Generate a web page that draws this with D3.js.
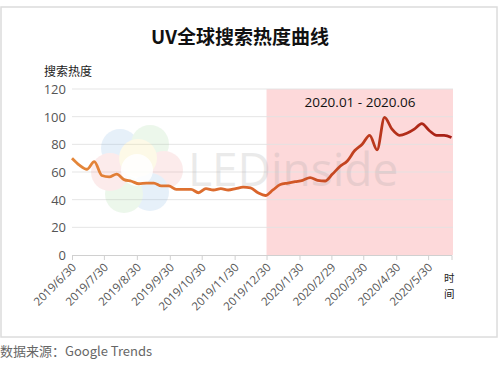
<!DOCTYPE html>
<html><head><meta charset="utf-8">
<script src="https://cdn.jsdelivr.net/npm/d3@7"></script>
<style>
html,body{margin:0;padding:0;background:#fff;}
svg{display:block;font-family:"Open Sans","Noto Sans CJK SC",sans-serif;}
</style></head>
<body>
<script>
// ---- data ----
const startDate = "2019-06-30";
const values = [70,65,62,67.5,57.5,56.5,58.5,54.5,53.3,51.5,52,52,50,50,47.5,47.5,47.5,45,48,47,48,47,48,49,48.5,45,
  43,47,51,52,53,54,56,54,53.5,58.5,64,68,75.5,80,86.5,76,99.5,91,86.5,88,91,95,90,86.5,86.5,85];
const tickLabels = ["2019/6/30","2019/7/30","2019/8/30","2019/9/30","2019/10/30","2019/11/30","2019/12/30",
  "2020/1/30","2020/2/29","2020/3/30","2020/4/30","2020/5/30"];
const yTicks = [0,20,40,60,80,100,120];
const highlightStart = "2019/12/30";
const highlightLabel = "2020.01 - 2020.06";
const title = "UV全球搜索热度曲线";
const yTitle = "搜索热度";
const xTitle = "时间";
const source = "数据来源：Google Trends";

(function(){
const W = 500, H = 369;
const parse = d3.timeParse("%Y/%m/%d");
const d0 = d3.timeParse("%Y-%m-%d")(startDate);
const data = values.map((v,i)=>({date:d3.timeDay.offset(d0, i*7), v}));
const tickDates = tickLabels.map(parse);

const svg = d3.select("body").append("svg").attr("width",W).attr("height",H);
// frame
svg.append("rect").attr("x",1).attr("y",7).attr("width",496).attr("height",330)
  .attr("fill","#fff").attr("stroke","#dcdcdc").attr("stroke-width",1.5);

const pL=72, pR=453, pT=89, pB=255;
const x = d3.scaleTime().domain([d0, d3.timeDay.offset(d0, 51*7)]).range([pL, 451.5]);
const y = d3.scaleLinear().domain([0,120]).range([pB, pT]);

// highlight region
svg.append("rect").attr("x",x(parse(highlightStart))).attr("y",y(120))
  .attr("width",pR - x(parse(highlightStart))).attr("height",y(0)-y(120))
  .attr("fill","#fdd9da");

// grid
svg.append("g").selectAll("line").data(yTicks.filter(d=>d>0)).join("line")
  .attr("x1",pL).attr("x2",pR).attr("y1",d=>y(d)).attr("y2",d=>y(d))
  .attr("stroke","#e3e3e3").attr("stroke-width",1).attr("opacity",0.9);

// watermark
const wm = svg.append("g").attr("opacity",0.16);
const petals = [[120,148,"#6aa6e0"],[150,144,"#8fd08a"],[164,170,"#f08a8a"],[150,192,"#6aa6e0"],[124,194,"#8fd08a"],[110,172,"#f08a8a"],[138,158,"#f5dd70"]];
wm.selectAll("circle").data(petals).join("circle")
  .attr("cx",d=>d[0]).attr("cy",d=>d[1]).attr("r",19).attr("fill",d=>d[2]);
svg.append("circle").attr("cx",137).attr("cy",170).attr("r",16).attr("fill","#fff").attr("opacity",0.85);
svg.append("text").attr("x",188).attr("y",186).attr("font-size",46)
  .attr("font-family","'Open Sans',sans-serif").attr("fill","#9a9a9a").attr("opacity",0.2)
  .text("LEDinside");

// y axis labels
svg.append("g").selectAll("text").data(yTicks).join("text")
  .attr("x",66).attr("y",d=>y(d)+5).attr("text-anchor","end")
  .attr("font-size",13).attr("fill","#555").text(d=>d);

// x axis
const xa = svg.append("g").attr("transform",`translate(0,${pB})`)
  .call(d3.axisBottom(x).tickValues(tickDates).tickSize(5).tickFormat(""));
xa.select(".domain").attr("stroke","#d0d0d0");
xa.selectAll(".tick line").attr("stroke","#d0d0d0");
svg.append("g").selectAll("text").data(tickDates).join("text")
  .attr("transform",(d,i)=>`translate(${x(d)+5},${pB+13}) rotate(-45)`)
  .attr("text-anchor","end").attr("font-size",11.5).attr("fill","#555")
  .text((d,i)=>tickLabels[i]);

// line with gradient
const grad = svg.append("defs").append("linearGradient").attr("id","lg")
  .attr("gradientUnits","userSpaceOnUse").attr("x1",pL).attr("x2",pR).attr("y1",0).attr("y2",0);
grad.append("stop").attr("offset","0%").attr("stop-color","#e4873a");
grad.append("stop").attr("offset","50%").attr("stop-color","#d9622a");
grad.append("stop").attr("offset","100%").attr("stop-color","#a51c14");
svg.append("path").datum(data)
  .attr("d", d3.line().x(d=>x(d.date)).y(d=>y(d.v)).curve(d3.curveMonotoneX))
  .attr("fill","none").attr("stroke","url(#lg)").attr("stroke-width",2.8)
  .attr("stroke-linejoin","round");

// texts
svg.append("text").attr("x",240).attr("y",44).attr("text-anchor","middle")
  .attr("font-size",19).attr("font-weight","bold").attr("fill","#111")
  .attr("font-family","'Noto Sans CJK SC',sans-serif").text(title);
svg.append("text").attr("x",44).attr("y",76).attr("font-size",12).attr("fill","#222")
  .attr("font-family","'Noto Sans CJK SC',sans-serif").text(yTitle);
svg.append("text").attr("x",360).attr("y",107).attr("text-anchor","middle")
  .attr("font-size",13.5).attr("fill","#111").text(highlightLabel);
svg.append("g").selectAll("text").data(xTitle.split("")).join("text")
  .attr("x",444).attr("y",(d,i)=>282+i*15.5).attr("font-size",10.5).attr("fill","#222")
  .attr("font-family","'Noto Sans CJK SC',sans-serif").text(d=>d);
svg.append("text").attr("x",0).attr("y",356).attr("font-size",13).attr("fill","#666")
  .attr("font-family","'Noto Sans CJK SC','Open Sans',sans-serif").text(source);
})();
</script>
</body></html>
